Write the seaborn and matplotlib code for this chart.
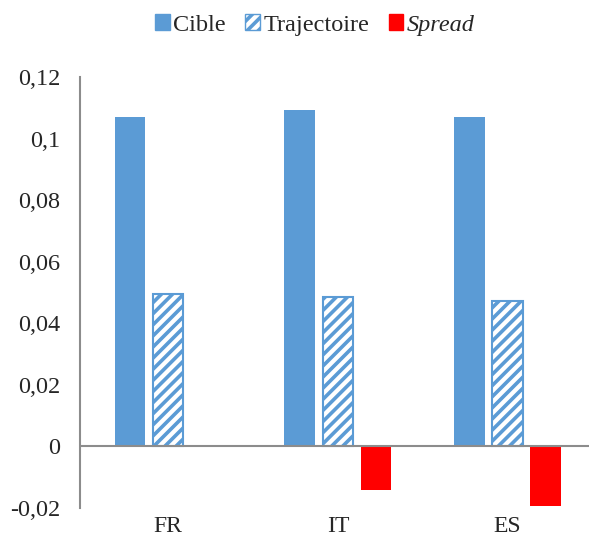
import pandas as pd
import matplotlib.pyplot as plt
import seaborn as sns
from matplotlib.patches import Patch

# values
pays = ['FR', 'IT', 'ES']
cible = [0.1071, 0.1094, 0.1071]
trajectoire = [0.0494, 0.0484, 0.0474]
spread = [0.0, -0.0143, -0.0192]
series = ['Cible', 'Trajectoire', 'Spread']
yticks = [-0.02, 0, 0.02, 0.04, 0.06, 0.08, 0.1, 0.12]

df = pd.DataFrame({
    'pays': pays * 3,
    'serie': [s for s in series for _ in pays],
    'valeur': cible + trajectoire + spread,
})

sns.set_style('white')
plt.rcParams['font.family'] = ['Liberation Serif', 'DejaVu Serif']
plt.rcParams['hatch.linewidth'] = 2.6
plt.rcParams['hatch.color'] = '#5B9BD5'

bleu = '#5B9BD5'
rouge = '#FF0000'
palette = {'Cible': bleu, 'Trajectoire': 'white', 'Spread': rouge}

fig = plt.figure(figsize=(5.89, 5.44), dpi=100)
ax = fig.add_axes([80 / 589, 36 / 544, 1 - 80 / 589, 431 / 544])

sns.barplot(data=df, x='pays', y='valeur', hue='serie', palette=palette,
            saturation=1, width=0.675, gap=0.2, legend=False, ax=ax, linewidth=0)

# hatch for the Trajectoire bars
for bar in ax.containers[1]:
    bar.set_hatch('///')
    bar.set_edgecolor(bleu)
    bar.set_linewidth(1.5)

ax.set_xlim(-0.52, 2.48)
ax.set_ylim(-0.02, 0.12)
ax.set_yticks(yticks)
ax.set_yticklabels([('%g' % t).replace('.', ',') for t in yticks], fontsize=17.5)
ax.tick_params(axis='y', length=0, pad=14)
ax.tick_params(axis='x', length=0, pad=6, labelsize=17)
ax.set_xlabel('')
ax.set_ylabel('')

for s in ['top', 'right', 'bottom']:
    ax.spines[s].set_visible(False)
ax.spines['left'].set_color('#8c8c8c')
ax.spines['left'].set_linewidth(1.5)
ax.axhline(0, color='#8c8c8c', linewidth=1.5, zorder=3)

handles = [
    Patch(facecolor=bleu, edgecolor=bleu),
    Patch(facecolor='white', edgecolor=bleu, hatch='///'),
    Patch(facecolor=rouge, edgecolor=rouge),
]
leg = fig.legend(handles, series, loc='center', bbox_to_anchor=(315 / 589, 1 - 25 / 544),
                 ncol=3, frameon=False, fontsize=17.5, handlelength=0.6, handleheight=0.6,
                 handletextpad=0.15, columnspacing=0.8)
leg.get_texts()[2].set_style('italic')

fig.savefig('out.png', dpi=100)
